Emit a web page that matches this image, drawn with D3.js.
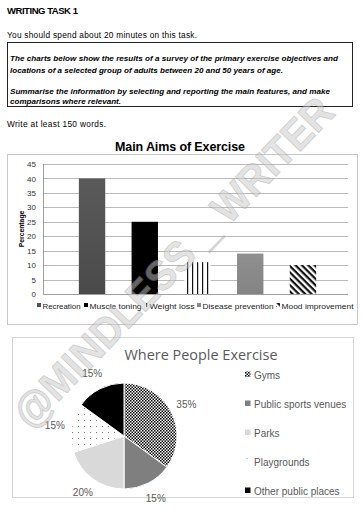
<!DOCTYPE html>
<html>
<head>
<meta charset="utf-8">
<script src="https://cdn.jsdelivr.net/npm/d3@7"></script>
<style>
  body { margin: 0; background: #fff; }
  svg { display: block; font-family: Arial, "Liberation Sans", sans-serif; }
</style>
</head>
<body>
<div id="chart"></div>
<script>
// bar chart data
let aims = ["Recreation", "Muscle toning", "Weight loss", "Disease prevention", "Mood improvement"];
let aimValues = [40, 25, 11, 14, 10];
let yTicks = [0, 5, 10, 15, 20, 25, 30, 35, 40, 45];

// pie chart data
let places = ["Gyms", "Public sports venues", "Parks", "Playgrounds", "Other public places"];
let placeValues = [35, 15, 20, 15, 15];

let W = 363, H = 512;

let svg = d3.select("#chart").append("svg")
    .attr("width", W)
    .attr("height", H);

let defs = svg.append("defs");

// patterns + gradients
let g1 = defs.append("linearGradient").attr("id", "gRec").attr("x1", 0).attr("x2", 0).attr("y1", 0).attr("y2", 1);
g1.append("stop").attr("offset", "0%").attr("stop-color", "#5a5a5a");
g1.append("stop").attr("offset", "100%").attr("stop-color", "#4a4a4a");
let g2 = defs.append("linearGradient").attr("id", "gDis").attr("x1", 0).attr("x2", 0).attr("y1", 0).attr("y2", 1);
g2.append("stop").attr("offset", "0%").attr("stop-color", "#8f8f8f");
g2.append("stop").attr("offset", "100%").attr("stop-color", "#848484");

let pv = defs.append("pattern").attr("id", "pVert").attr("patternUnits", "userSpaceOnUse")
    .attr("width", 5).attr("height", 5);
pv.append("rect").attr("width", 5).attr("height", 5).attr("fill", "#fff");
pv.append("rect").attr("x", 2).attr("width", 1.2).attr("height", 5).attr("fill", "#111");

let pd = defs.append("pattern").attr("id", "pDiag").attr("patternUnits", "userSpaceOnUse")
    .attr("width", 4.5).attr("height", 4.5).attr("patternTransform", "rotate(45)");
pd.append("rect").attr("width", 4.5).attr("height", 4.5).attr("fill", "#fff");
pd.append("rect").attr("width", 4.5).attr("height", 2.2).attr("fill", "#111");

let pc = defs.append("pattern").attr("id", "pCheck").attr("patternUnits", "userSpaceOnUse")
    .attr("width", 3).attr("height", 3);
pc.append("rect").attr("width", 3).attr("height", 3).attr("fill", "#fff");
pc.append("rect").attr("width", 1.5).attr("height", 1.5).attr("fill", "#000");
pc.append("rect").attr("x", 1.5).attr("y", 1.5).attr("width", 1.5).attr("height", 1.5).attr("fill", "#000");

let pp = defs.append("pattern").attr("id", "pDots").attr("patternUnits", "userSpaceOnUse")
    .attr("width", 6).attr("height", 6);
pp.append("rect").attr("width", 6).attr("height", 6).attr("fill", "#fff");
pp.append("rect").attr("x", 2).attr("y", 2).attr("width", 1).attr("height", 1).attr("fill", "#777");

let barFills = ["url(#gRec)", "#000", "url(#pVert)", "url(#gDis)", "url(#pDiag)"];
let pieFills = ["url(#pCheck)", "#7f7f7f", "#d9d9d9", "url(#pDots)", "#000"];

// ----- header text -----
svg.append("text").attr("x", 7).attr("y", 14)
    .style("font-size", "9.5px").style("font-weight", "bold")
    .attr("textLength", 71).text("WRITING TASK 1");
svg.append("text").attr("x", 7).attr("y", 38)
    .style("font-size", "8.3px").attr("textLength", 190).text("You should spend about 20 minutes on this task.");
svg.append("rect").attr("x", 7.5).attr("y", 42.5).attr("width", 345).attr("height", 64)
    .attr("fill", "none").attr("stroke", "#222").attr("stroke-width", 1);
let taskLines = [
    ["The charts below show the results of a survey of the primary exercise objectives and", 61, 328],
    ["locations of a selected group of adults between 20 and 50 years of age.", 73, 273],
    ["Summarise the information by selecting and reporting the main features, and make", 94, 320],
    ["comparisons where relevant.", 104, 111]
];
taskLines.forEach(function(l) {
    svg.append("text").attr("x", 10).attr("y", l[1])
        .style("font-size", "7.4px").style("font-weight", "bold").style("font-style", "italic")
        .attr("textLength", l[2]).attr("lengthAdjust", "spacingAndGlyphs")
        .text(l[0]);
});
svg.append("text").attr("x", 7).attr("y", 127)
    .style("font-size", "8.3px").attr("textLength", 99).text("Write at least 150 words.");

// ----- bar chart -----
svg.append("text").attr("x", 180).attr("y", 151)
    .style("text-anchor", "middle").style("font-size", "12.5px").style("font-weight", "bold")
    .attr("textLength", 130)
    .text("Main Aims of Exercise");
svg.append("rect").attr("x", 7.5).attr("y", 154.5).attr("width", 350).attr("height", 170)
    .attr("fill", "none").attr("stroke", "#c8c8c8");

let x = d3.scaleBand().domain(aims).range([52.5, 342.5]).padding(0.5);
let y = d3.scaleLinear().domain([0, 45]).range([294, 164]);

let bar = svg.append("g");
bar.selectAll(".grid").data(yTicks).enter().append("line")
    .attr("x1", 43).attr("x2", 348)
    .attr("y1", function(d) { return Math.round(y(d)) + 0.5; })
    .attr("y2", function(d) { return Math.round(y(d)) + 0.5; })
    .attr("stroke", function(d) { return d === 0 ? "#888" : "#a8a8a8"; }).attr("stroke-width", 0.8);
bar.append("line").attr("x1", 43.5).attr("x2", 43.5).attr("y1", y(45)).attr("y2", y(0))
    .attr("stroke", "#888").attr("stroke-width", 0.8);

let yAxis = bar.append("g").attr("transform", "translate(40,0)")
    .call(d3.axisLeft(y).tickValues(yTicks).tickSize(0).tickPadding(4));
yAxis.select(".domain").remove();
yAxis.selectAll("text").style("font-size", "8px").style("fill", "#333")
    .style("font-family", "Arial, 'Liberation Sans', sans-serif");

bar.append("text").attr("transform", "rotate(-90)")
    .attr("x", -229).attr("y", 24)
    .style("text-anchor", "middle").style("font-size", "6.8px").style("font-weight", "bold")
    .text("Percentage");

bar.selectAll(".bar").data(aimValues).enter().append("rect")
    .attr("x", function(d, i) { return x(aims[i]); })
    .attr("width", x.bandwidth())
    .attr("y", function(d) { return y(d); })
    .attr("height", function(d) { return y(0) - y(d); })
    .attr("fill", function(d, i) { return barFills[i]; });

// bar legend
let legX = [37, 84, 144, 197, 276];
let legW = [38, 52, 45, 71, 72];
aims.forEach(function(a, i) {
    let lg = bar.append("g").attr("transform", "translate(" + legX[i] + ",306)");
    lg.append("rect").attr("x", 0).attr("y", -3).attr("width", 4).attr("height", 4)
        .attr("fill", barFills[i]);
    lg.append("text").attr("x", 5.5).attr("y", 3)
        .style("font-size", "8px").style("fill", "#222")
        .attr("textLength", legW[i]).attr("lengthAdjust", "spacingAndGlyphs")
        .text(a);
});

// ----- pie chart -----
svg.append("rect").attr("x", 12.5).attr("y", 337.5).attr("width", 341).attr("height", 160)
    .attr("fill", "none").attr("stroke", "#d6d6d6");
svg.append("text").attr("x", 201).attr("y", 360)
    .style("text-anchor", "middle").style("font-size", "15px").style("fill", "#595959")
    .style("font-family", "'Open Sans', sans-serif")
    .attr("textLength", 153).attr("lengthAdjust", "spacingAndGlyphs")
    .text("Where People Exercise");

let pie = d3.pie().sort(null)(placeValues);
let R = 53;
let arc = d3.arc().innerRadius(0).outerRadius(R);
let pg = svg.append("g").attr("transform", "translate(124,436)");
pg.selectAll("path").data(pie).enter().append("path")
    .attr("d", arc)
    .attr("fill", function(d, i) { return pieFills[i]; })
    .attr("stroke", "#fff").attr("stroke-width", 1);

let labelArc = d3.arc().innerRadius(R + 17).outerRadius(R + 17);
pg.selectAll(".plab").data(pie).enter().append("text")
    .attr("transform", function(d) { return "translate(" + labelArc.centroid(d) + ")"; })
    .attr("dy", "0.35em")
    .style("text-anchor", "middle").style("font-size", "10px").style("fill", "#595959")
    .text(function(d) { return d.data + "%"; });

let legY = [375, 404, 433, 462, 491];
places.forEach(function(p, i) {
    let lg = svg.append("g").attr("transform", "translate(245," + legY[i] + ")");
    lg.append("rect").attr("x", 0).attr("y", -3.5).attr("width", 5.5).attr("height", 5.5)
        .attr("fill", pieFills[i]);
    lg.append("text").attr("x", 9).attr("y", 3.5)
        .style("font-size", "10px").style("fill", "#595959").text(p);
});

// ----- watermark -----
svg.append("text")
    .attr("transform", "translate(173,262) rotate(-46)")
    .style("text-anchor", "middle").attr("dy", "0.35em")
    .style("font-size", "42px").style("font-weight", "bold")
    .attr("textLength", 440).attr("lengthAdjust", "spacingAndGlyphs")
    .style("fill", "#c8c8c8").style("stroke", "#9a9a9a").style("stroke-width", 0.8)
    .style("opacity", 0.5)
    .text("@MINDLESS _ WRITER");
</script>
</body>
</html>
